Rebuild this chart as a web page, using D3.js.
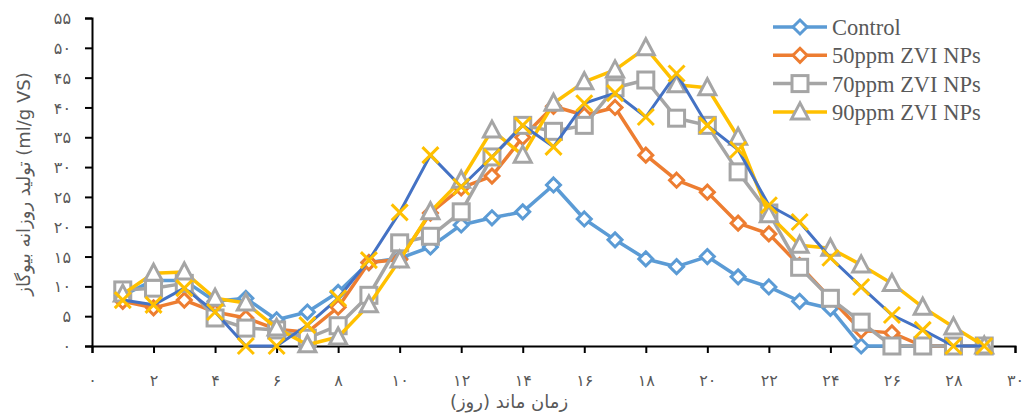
<!DOCTYPE html>
<html>
<head>
    <meta charset="utf-8">
    <title>Daily biogas production</title>
    <style>
        body { margin: 0; background: #ffffff; }
        .tick-label { font-family: "DejaVu Sans", sans-serif; font-size: 16px; fill: #595959; }
        .axis-title { font-family: "DejaVu Sans", sans-serif; font-size: 18px; fill: #595959; }
        .legend-text { font-family: "Liberation Serif", "Times New Roman", serif; font-size: 22.5px; fill: #595959; }
    </style>
    <script src="https://cdn.jsdelivr.net/npm/d3@7/dist/d3.min.js"></script>
</head>
<body>
<div id="chart"></div>
<script>
    var days = d3.range(1, 30);

    var control = [8.5, 11, 11, 7.5, 8, 4.4, 5.7, 9, 14, 14.7, 16.6, 20.3, 21.5, 22.5, 27, 21.3, 17.8, 14.6, 13.3, 15, 11.6, 9.9, 7.5, 6.3, 0, 0, 0, 0, 0];
    var ppm50 = [7.5, 6.4, 7.7, 5.7, 4.7, 2.8, 2.3, 6.5, 14, 14.5, 22.3, 26.5, 28.5, 35, 40.2, 38.7, 40, 32, 27.8, 25.8, 20.6, 18.8, 13.5, 8, 2.6, 2.2, 0, 0, 0];
    var ppm70 = [9.4, 9.7, 10.5, 4.7, 3, 2.7, 1.3, 3.4, 8.5, 17.3, 18.4, 22.5, 31.7, 37, 36, 37, 43.3, 44.6, 38.2, 37, 29.2, 22.3, 13.2, 8, 4, 0, 0, 0, 0];
    var ppm90 = [8.7, 12.2, 12.4, 8, 7.2, 3, 0.2, 1.5, 6.9, 14.4, 22.5, 27.8, 36.2, 32, 40.7, 44.3, 46.3, 50, 43.8, 43.3, 35, 22, 16.9, 16.4, 13.6, 10.5, 6.5, 3.2, 0];
    var extra = [7.7, 6.9, 9.7, 5.7, 0, 0, 3.5, 8, 14.4, 22.4, 32, 26.7, 31.7, 37, 33.4, 40.7, 42.4, 38.4, 45.7, 37, 32.9, 23.6, 20.8, 14.8, 9.9, 5.2, 2.7, 0, 0];

    var xTicks = d3.range(0, 31, 2);
    var xTickLabels = ["۰", "۲", "۴", "۶", "۸", "۱۰", "۱۲", "۱۴", "۱۶", "۱۸", "۲۰", "۲۲", "۲۴", "۲۶", "۲۸", "۳۰"];
    var yTicks = d3.range(0, 56, 5);
    var yTickLabels = ["۰", "۵", "۱۰", "۱۵", "۲۰", "۲۵", "۳۰", "۳۵", "۴۰", "۴۵", "۵۰", "۵۵"];

    var series = [
        { name: "Control", values: control, line: "#5B9BD5", mark: "#5B9BD5", shape: "diamond", legend: true },
        { name: "50ppm ZVI NPs", values: ppm50, line: "#ED7D31", mark: "#ED7D31", shape: "diamond", legend: true },
        { name: "70ppm ZVI NPs", values: ppm70, line: "#A5A5A5", mark: "#A5A5A5", shape: "square", legend: true },
        { name: "90ppm ZVI NPs", values: ppm90, line: "#FFC000", mark: "#A5A5A5", shape: "triangle", legend: true },
        { name: "", values: extra, line: "#4472C4", mark: "#FFC000", shape: "cross", legend: false }
    ];

    var width = 1024, height = 416;
    var svg = d3.select("#chart").append("svg")
        .attr("width", width)
        .attr("height", height);

    var x = d3.scaleLinear().domain([0, 30]).range([92, 1015]);
    var y = d3.scaleLinear().domain([0, 55]).range([346, 18]);

    // axes
    var xAxis = d3.axisBottom(x).tickValues(xTicks).tickSize(7)
        .tickFormat(function(d, i) { return xTickLabels[i]; });
    var yAxis = d3.axisLeft(y).tickValues(yTicks).tickSize(7)
        .tickFormat(function(d, i) { return yTickLabels[i]; });

    var gx = svg.append("g").attr("transform", "translate(0," + y(0) + ")").call(xAxis);
    var gy = svg.append("g").attr("transform", "translate(" + x(0) + ",0)").call(yAxis);

    [gx, gy].forEach(function(g) {
        g.select(".domain").attr("stroke", "#000").attr("stroke-width", 2);
        g.selectAll(".tick line").attr("stroke", "#000").attr("stroke-width", 2);
        g.selectAll(".tick text").attr("class", "tick-label").attr("fill", null);
    });
    gx.selectAll(".tick text").attr("dy", null).attr("y", 40);
    gy.selectAll(".tick text").attr("x", -21).attr("dy", "0.35em");

    // titles
    svg.append("text")
        .attr("class", "axis-title")
        .attr("x", 509)
        .attr("y", 408)
        .style("text-anchor", "middle")
        .text("زمان ماند (روز)");

    svg.append("text")
        .attr("class", "axis-title")
        .attr("transform", "translate(30," + 184 + ") rotate(-90)")
        .style("text-anchor", "middle")
        .text("تولید روزانه بیوگاز (ml/g VS)");

    function drawMarker(g, shape, color) {
        if (shape === "diamond") {
            g.append("path").attr("d", "M0,-7L7,0L0,7L-7,0Z")
                .attr("fill", "#fff").attr("stroke", color).attr("stroke-width", 3);
        } else if (shape === "square") {
            g.append("rect").attr("x", -8).attr("y", -8).attr("width", 16).attr("height", 16)
                .attr("fill", "#fff").attr("stroke", color).attr("stroke-width", 3);
        } else if (shape === "triangle") {
            g.append("path").attr("d", "M0,-9L8.5,7L-8.5,7Z")
                .attr("fill", "#fff").attr("stroke", color).attr("stroke-width", 3);
        } else {
            g.append("path").attr("d", "M-8,-8L8,8M-8,8L8,-8")
                .attr("fill", "none").attr("stroke", color).attr("stroke-width", 3);
        }
    }

    var line = d3.line()
        .x(function(d, i) { return x(days[i]); })
        .y(function(d) { return y(d); });

    series.forEach(function(s) {
        var g = svg.append("g");
        g.append("path")
            .datum(s.values)
            .attr("d", line)
            .attr("fill", "none")
            .attr("stroke", s.line)
            .attr("stroke-width", s.legend ? 3.5 : 3)
            .attr("stroke-linejoin", "round");
        g.selectAll(".pt")
            .data(s.values)
            .enter()
            .append("g")
            .attr("class", "pt")
            .attr("transform", function(d, i) { return "translate(" + x(days[i]) + "," + y(d) + ")"; })
            .each(function() { drawMarker(d3.select(this), s.shape, s.mark); });
    });

    // legend
    var legend = svg.append("g").attr("transform", "translate(773,27)");
    series.filter(function(s) { return s.legend; }).forEach(function(s, i) {
        var row = legend.append("g").attr("transform", "translate(0," + (i * 28.3) + ")");
        row.append("line").attr("x1", 0).attr("x2", 54).attr("y1", 0).attr("y2", 0)
            .attr("stroke", s.line).attr("stroke-width", 3.5);
        drawMarker(row.append("g").attr("transform", "translate(27,0)"), s.shape, s.mark);
        row.append("text").attr("class", "legend-text").attr("x", 59).attr("y", 8).text(s.name);
    });
</script>
</body>
</html>
